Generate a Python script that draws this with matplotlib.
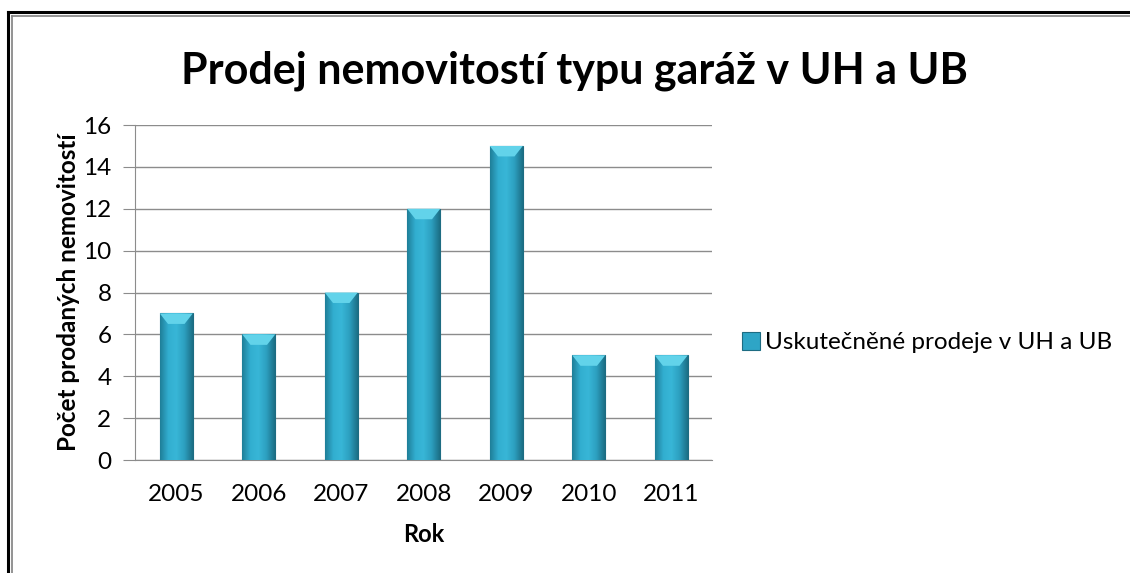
import matplotlib
matplotlib.use('Agg')
import matplotlib.pyplot as plt
import numpy as np
from matplotlib.lines import Line2D
from matplotlib.colors import LinearSegmentedColormap

# --- data ---
roky = ['2005', '2006', '2007', '2008', '2009', '2010', '2011']
prodeje = [7, 6, 8, 12, 15, 5, 5]
y_ticks = [0, 2, 4, 6, 8, 10, 12, 14, 16]

nadpis = 'Prodej nemovitostí typu garáž v UH a UB'
popis_x = 'Rok'
popis_y = 'Počet prodaných nemovitostí'
legenda = 'Uskutečněné prodeje v UH a UB'

plt.rcParams['font.family'] = ['Lato', 'DejaVu Sans']

fig = plt.figure(figsize=(11.3, 5.73), dpi=100)
ax = fig.add_axes([0.1195, 0.1972, 0.5110, 0.5846])

x = np.arange(len(roky))
sirka = 0.40
bars = ax.bar(x, prodeje, width=sirka, color='#2ea5c6', edgecolor='#1d6c82',
              linewidth=0.8, zorder=3, label=legenda)

# gradient fill inside each bar
cmap = LinearSegmentedColormap.from_list('bar', ['#1f7f99', '#32aed0', '#38b6d7', '#2c9fbf', '#1c6f86'])
grad = np.linspace(0, 1, 64).reshape(1, -1)
for b in bars:
    x0, w, h = b.get_x(), b.get_width(), b.get_height()
    im = ax.imshow(grad, cmap=cmap, aspect='auto', extent=(x0, x0 + w, 0, h), zorder=3.5)
    im.set_clip_path(b)
    # light top bevel
    ax.fill([x0, x0 + w, x0 + w * 0.75, x0 + w * 0.25], [h, h, h - 0.5, h - 0.5],
            color='#62d3ea', zorder=4, lw=0)
    # shadow under the bar
    ax.fill_between([x0, x0 + w], -0.12, 0, color='#b0b0b0', alpha=0.6, zorder=2, lw=0)

ax.set_xlim(-0.5, len(roky) - 0.5)
ax.set_ylim(0, 16)
ax.set_yticks(y_ticks)
ax.set_xticks(x)
ax.set_xticklabels(roky)
ax.grid(axis='y', color='#8c8c8c', linewidth=1, zorder=0)
ax.set_axisbelow(True)
for s in ['top', 'right']:
    ax.spines[s].set_visible(False)
ax.spines['left'].set_color('#8c8c8c')
ax.spines['bottom'].set_color('#8c8c8c')
ax.tick_params(axis='y', length=9, color='#8c8c8c', labelsize=17.5, pad=8)
ax.tick_params(axis='x', length=0, labelsize=17.5, pad=17)

ax.set_xlabel(popis_x, fontsize=17, fontweight='bold', labelpad=13)
ax.set_ylabel(popis_y, fontsize=17.5, fontweight='bold', labelpad=2)

fig.text(0.508, 0.877, nadpis, fontsize=31, fontweight='bold', ha='center', va='center')

ax.legend(loc='center left', bbox_to_anchor=(1.0, 0.35), frameon=False, fontsize=17.5,
          handlelength=0.75, handleheight=0.75, handletextpad=0.2, borderaxespad=0.8)

# double frame around the chart
fig.add_artist(Line2D([0.0071, 0.0071], [0, 0.979], color='black', lw=2.2))
fig.add_artist(Line2D([0.0071, 1.0], [0.979, 0.979], color='black', lw=2.2))
fig.add_artist(Line2D([0.0106, 0.0106], [0, 0.972], color='#808080', lw=1.2))
fig.add_artist(Line2D([0.0106, 1.0], [0.972, 0.972], color='#808080', lw=1.2))

fig.savefig('out.png', dpi=100)
